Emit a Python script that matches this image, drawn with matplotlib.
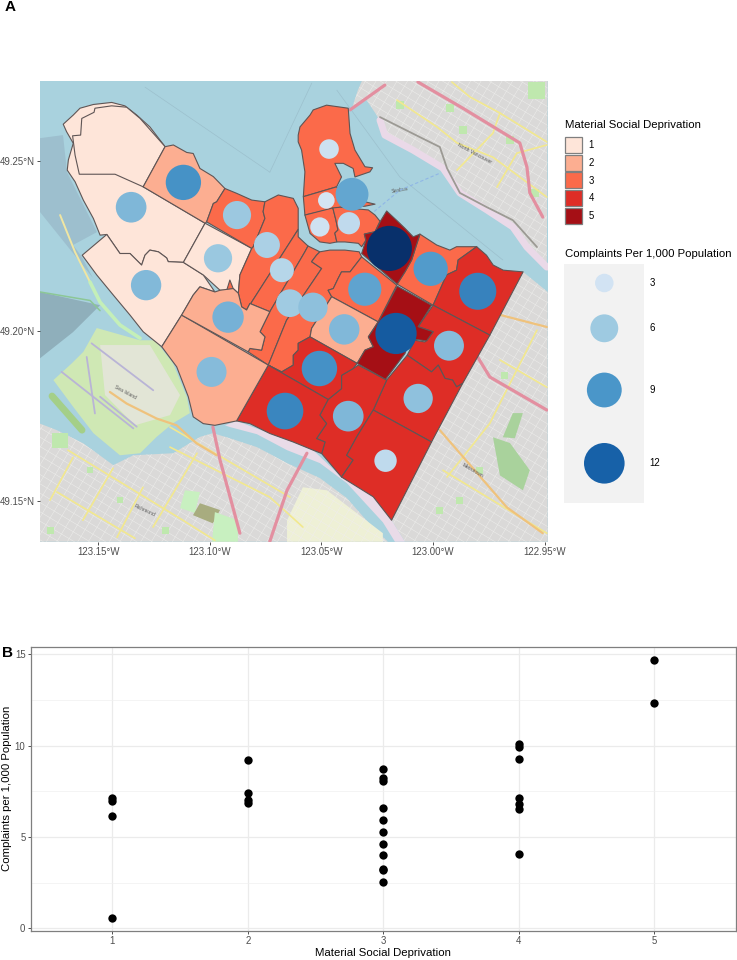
import numpy as np
import matplotlib
matplotlib.use("Agg")
import matplotlib.pyplot as plt
from matplotlib.patches import Polygon, Rectangle, PathPatch
from matplotlib.path import Path
from matplotlib.collections import LineCollection
from matplotlib.colors import LinearSegmentedColormap

plt.rcParams['font.family'] = ['Liberation Sans', 'DejaVu Sans']

# ---------- Panel B data ----------
deprivation_1 = [0.57, 6.13, 6.99, 7.12]
deprivation_2 = [9.23, 7.41, 7.03, 6.84]
deprivation_3 = [8.72, 8.23, 8.08, 6.57, 5.93, 5.27, 4.60, 4.03, 3.27, 3.20, 2.54]
deprivation_4 = [10.09, 9.90, 9.29, 7.12, 6.81, 6.55, 4.09]
deprivation_5 = [14.69, 12.35]

# ---------- Panel A: legend ----------
level_labels = ['1', '2', '3', '4', '5']
level_colors = ['#fee5d9', '#fcae91', '#fb6a4a', '#de2d26', '#a50f15']
size_breaks = [3, 6, 9, 12]
blue_stops = [(2.5, '#d4e5f4'), (3, '#d2e3f3'), (6, '#9ecae1'), (9, '#4a96c9'),
              (12, '#1761a8'), (14.7, '#08306b')]

# ---------- Panel A: complaint circles (lon, lat, complaints per 1,000) ----------
circle_lon = [-123.1118, -123.1352, -123.1285, -123.0963, -123.0918, -123.0992,
              -123.0878, -123.0744, -123.0677, -123.0641, -123.0538, -123.0466,
              -123.0478, -123.0363, -123.0507, -123.0377, -123.0196, -123.0011,
              -122.9800, -123.0306, -123.0398, -123.0166, -122.9929, -123.0509,
              -123.0663, -123.0380, -123.0067, -123.0213]
circle_lat = [49.2437, 49.2364, 49.2135, 49.2214, 49.2041, 49.1880,
              49.2341, 49.2253, 49.2179, 49.2082, 49.2070, 49.2535,
              49.2384, 49.2402, 49.2306, 49.2317, 49.2243, 49.2183,
              49.2117, 49.2123, 49.2005, 49.1993, 49.1957, 49.1890,
              49.1765, 49.1750, 49.1802, 49.1619]
circle_val = [9.23, 7.12, 6.99, 6.13, 7.41, 6.84,
              6.10, 5.27, 4.60, 5.93, 6.57, 3.27,
              2.54, 8.08, 3.20, 4.03, 14.69, 8.72,
              10.09, 8.23, 7.03, 12.35, 6.81, 9.29,
              9.90, 7.12, 6.55, 4.09]

# ---------- Panel A: neighbourhood boundaries (lon, lat) ----------
area_west = [(-123.1656,49.2608),(-123.1611,49.2635),(-123.1581,49.2655),(-123.1521,49.2666),(-123.1439,49.2672),
    (-123.1380,49.2662),(-123.1327,49.2635),(-123.1268,49.2600),(-123.1200,49.2542),(-123.1298,49.2424),
    (-123.1021,49.2317),(-123.1118,49.2202),(-123.1186,49.2204),(-123.1193,49.2215),(-123.1230,49.2233),
    (-123.1268,49.2238),(-123.1290,49.2223),(-123.1305,49.2194),(-123.1357,49.2228),(-123.1402,49.2228),
    (-123.1461,49.2284),(-123.1491,49.2282),(-123.1521,49.2331),(-123.1566,49.2385),(-123.1603,49.2439),
    (-123.1638,49.2473),(-123.1633,49.2503),(-123.1611,49.2552),(-123.1641,49.2586)]
area_ubc = [(-123.1573,49.2625),(-123.1518,49.2643),(-123.1514,49.2655),(-123.1439,49.2662),(-123.1372,49.2658),
    (-123.1312,49.2625),(-123.1200,49.2542),(-123.1298,49.2424),(-123.1424,49.2461),(-123.1584,49.2461),
    (-123.1603,49.2517),(-123.1614,49.2574),(-123.1578,49.2576)]
area_c = [(-123.1571,49.2223),(-123.1461,49.2284),(-123.1402,49.2228),(-123.1357,49.2228),(-123.1305,49.2194),
    (-123.1290,49.2223),(-123.1268,49.2238),(-123.1230,49.2233),(-123.1193,49.2215),(-123.1186,49.2204),
    (-123.1118,49.2202),(-123.1029,49.2165),(-123.0977,49.2115),(-123.1044,49.2130),(-123.1074,49.2106),
    (-123.1126,49.2047),(-123.1215,49.1954),(-123.1298,49.1998),(-123.1357,49.2047),(-123.1432,49.2106),
    (-123.1506,49.2165)]
area_d = [(-123.1021,49.2317),(-123.0812,49.2243),(-123.0865,49.2165),(-123.0872,49.2111),(-123.0895,49.2125),
    (-123.0924,49.2120),(-123.0954,49.2120),(-123.1029,49.2165),(-123.1118,49.2202)]
area_e = [(-123.1200,49.2542),(-123.1163,49.2547),(-123.1103,49.2525),(-123.1074,49.2522),(-123.1044,49.2478),
    (-123.0984,49.2454),(-123.0932,49.2419),(-123.0969,49.2380),(-123.0984,49.2375),(-123.1014,49.2321),
    (-123.1021,49.2317),(-123.1298,49.2424)]
area_f = [(-123.0932,49.2419),(-123.0880,49.2405),(-123.0812,49.2385),(-123.0753,49.2380),(-123.0761,49.2351),
    (-123.0753,49.2331),(-123.0805,49.2248),(-123.0812,49.2243),(-123.1014,49.2321),(-123.0984,49.2375),
    (-123.0969,49.2380)]
area_g = [(-123.0753,49.2380),(-123.0693,49.2400),(-123.0626,49.2390),(-123.0604,49.2361),(-123.0604,49.2299),
    (-123.0835,49.2062),(-123.0857,49.2071),(-123.0872,49.2111),(-123.0865,49.2165),(-123.0812,49.2243),
    (-123.0805,49.2248),(-123.0753,49.2331),(-123.0761,49.2351)]
area_sliver = [(-123.0924,49.2120),(-123.0910,49.2150),(-123.0895,49.2125)]
area_h = [(-123.0604,49.2299),(-123.0604,49.2277),(-123.0560,49.2250),(-123.0574,49.2233),(-123.0731,49.2057),
    (-123.0820,49.2081),(-123.0835,49.2062)]
area_i = [(-123.0574,49.2233),(-123.0560,49.2250),(-123.0507,49.2233),(-123.0522,49.2223),(-123.0544,49.2204),
    (-123.0499,49.2184),(-123.0656,49.2032),(-123.0671,49.2008),(-123.0738,49.1900),(-123.0828,49.1939),
    (-123.0820,49.1949),(-123.0768,49.1944),(-123.0753,49.1983),(-123.0775,49.1998),(-123.0731,49.2057)]
area_j = [(-123.0522,49.2223),(-123.0507,49.2233),(-123.0462,49.2238),(-123.0395,49.2238),
    (-123.0331,49.2233),(-123.0320,49.2218),(-123.0372,49.2174),(-123.0410,49.2174),(-123.0425,49.2155),
    (-123.0447,49.2125),(-123.0470,49.2120),(-123.0454,49.2101),(-123.0544,49.2008),(-123.0551,49.1983),
    (-123.0604,49.1964),(-123.0604,49.1944),(-123.0626,49.1929),(-123.0626,49.1900),(-123.0678,49.1880),
    (-123.0738,49.1900),(-123.0671,49.2008),(-123.0656,49.2032),(-123.0499,49.2184),(-123.0544,49.2204)]
area_k = [(-123.0320,49.2218),(-123.0163,49.2135),(-123.0246,49.2027),(-123.0454,49.2101),(-123.0470,49.2120),
    (-123.0447,49.2125),(-123.0425,49.2155),(-123.0410,49.2174),(-123.0372,49.2174)]
area_l = [(-123.0454,49.2101),(-123.0246,49.2027),(-123.0290,49.1983),(-123.0268,49.1954),(-123.0305,49.1944),
    (-123.0340,49.1905),(-123.0551,49.1983),(-123.0544,49.2008)]
area_m = [(-123.0320,49.2228),(-123.0301,49.2267),(-123.0308,49.2285),(-123.0260,49.2292),(-123.0235,49.2324),
    (-123.0208,49.2353),(-123.0156,49.2321),(-123.0126,49.2302),(-123.0089,49.2277),(-123.0059,49.2285),
    (-123.0096,49.2209),(-123.0126,49.2174),(-123.0161,49.2138)]
area_n = [(-123.0059,49.2285),(-122.9984,49.2253),(-122.9925,49.2238),(-122.9895,49.2248),(-122.9805,49.2248),
    (-122.9888,49.2209),(-122.9895,49.2179),(-122.9940,49.2165),(-123.0000,49.2076),(-123.0161,49.2138),
    (-123.0126,49.2174),(-123.0096,49.2209)]
area_o = [(-122.9805,49.2248),(-122.9761,49.2223),(-122.9731,49.2194),(-122.9686,49.2179),(-122.9597,49.2174),
    (-122.9746,49.1988),(-123.0000,49.2076),(-122.9940,49.2165),(-122.9895,49.2179),(-122.9888,49.2209)]
area_p = [(-123.0161,49.2132),(-123.0007,49.2076),(-123.0067,49.2013),(-123.0000,49.1998),(-123.0029,49.1971),
    (-123.0104,49.1978),(-123.0126,49.1934),(-123.0213,49.1858),(-123.0340,49.1905),(-123.0305,49.1944),
    (-123.0268,49.1954),(-123.0290,49.1983),(-123.0246,49.2027)]
area_q = [(-123.0000,49.2076),(-122.9746,49.1988),(-122.9868,49.1846),(-122.9895,49.1836),(-122.9913,49.1856),
    (-122.9947,49.1861),(-122.9977,49.1900),(-123.0007,49.1880),(-123.0116,49.1929),(-123.0082,49.1973),
    (-123.0037,49.1968),(-123.0000,49.1998),(-123.0067,49.2013)]
area_r = [(-123.0116,49.1929),(-123.0007,49.1880),(-122.9977,49.1900),(-122.9947,49.1861),(-122.9913,49.1856),
    (-122.9895,49.1836),(-122.9868,49.1846),(-123.0007,49.1674),(-123.0268,49.1768),(-123.0208,49.1856)]
area_s = [(-123.0335,49.1900),(-123.0208,49.1856),(-123.0268,49.1768),(-123.0342,49.1689),(-123.0387,49.1635),
    (-123.0358,49.1621),(-123.0410,49.1571),(-123.0499,49.1640),(-123.0484,49.1674),(-123.0522,49.1684),
    (-123.0477,49.1728),(-123.0507,49.1753),(-123.0470,49.1799),(-123.0410,49.1831),(-123.0410,49.1870),
    (-123.0358,49.1890)]
area_t = [(-123.0268,49.1768),(-123.0007,49.1674),(-123.0186,49.1444),(-123.0268,49.1513),(-123.0410,49.1571),
    (-123.0358,49.1621),(-123.0387,49.1635),(-123.0342,49.1689)]
area_u = [(-123.0551,49.1983),(-123.0340,49.1905),(-123.0358,49.1890),(-123.0410,49.1870),(-123.0410,49.1831),
    (-123.0470,49.1799),(-123.0738,49.1900),(-123.0678,49.1880),(-123.0626,49.1900),(-123.0626,49.1929),
    (-123.0604,49.1944),(-123.0604,49.1964)]
area_v = [(-123.0738,49.1900),(-123.0470,49.1799),(-123.0507,49.1753),(-123.0477,49.1728),(-123.0522,49.1684),
    (-123.0484,49.1674),(-123.0499,49.1640),(-123.0537,49.1650),(-123.0626,49.1674),(-123.0731,49.1699),
    (-123.0820,49.1728),(-123.0880,49.1736)]
area_w = [(-123.1215,49.1954),(-123.1148,49.1895),(-123.1096,49.1807),(-123.1074,49.1748),(-123.1029,49.1728),
    (-123.0977,49.1723),(-123.0880,49.1736),(-123.0738,49.1900),(-123.1126,49.2047)]
area_x = [(-123.1074,49.2106),(-123.1044,49.2130),(-123.0977,49.2115),(-123.0954,49.2120),(-123.0895,49.2125),
    (-123.0872,49.2111),(-123.0857,49.2071),(-123.0835,49.2062),(-123.0820,49.2081),(-123.0731,49.2057),
    (-123.0775,49.1998),(-123.0753,49.1983),(-123.0768,49.1944),(-123.0820,49.1949),(-123.0828,49.1939),
    (-123.1126,49.2047)]
area_y = [(-123.0604,49.2576),(-123.0596,49.2600),(-123.0551,49.2635),(-123.0537,49.2650),(-123.0477,49.2664),
    (-123.0380,49.2655),(-123.0372,49.2581),(-123.0350,49.2532),(-123.0305,49.2483),(-123.0271,49.2480),
    (-123.0283,49.2468),(-123.0350,49.2453),(-123.0358,49.2478),(-123.0402,49.2493),(-123.0440,49.2493),
    (-123.0410,49.2453),(-123.0432,49.2424),(-123.0581,49.2395),(-123.0574,49.2468),(-123.0589,49.2532),
    (-123.0604,49.2556)]
area_z = [(-123.0581,49.2395),(-123.0432,49.2424),(-123.0372,49.2370),(-123.0305,49.2380),(-123.0260,49.2373),
    (-123.0305,49.2367),(-123.0417,49.2364),(-123.0574,49.2341)]
area_aa = [(-123.0574,49.2341),(-123.0449,49.2362),(-123.0435,49.2326),(-123.0426,49.2297),(-123.0440,49.2288),
    (-123.0431,49.2262),(-123.0462,49.2258),(-123.0507,49.2262),(-123.0551,49.2287)]
area_ab = [(-123.0449,49.2362),(-123.0417,49.2364),(-123.0290,49.2356),(-123.0260,49.2341),(-123.0238,49.2323),
    (-123.0260,49.2292),(-123.0308,49.2285),(-123.0301,49.2267),(-123.0320,49.2248),(-123.0335,49.2258),
    (-123.0395,49.2262),(-123.0431,49.2262),(-123.0440,49.2288),(-123.0426,49.2297),(-123.0435,49.2326)]

areas = [area_west, area_ubc, area_c, area_d, area_e, area_f, area_sliver, area_g, area_h, area_i,
         area_j, area_k, area_l, area_n, area_o, area_q, area_r, area_s, area_t, area_u, area_v,
         area_w, area_x, area_y, area_z, area_aa, area_ab, area_m, area_p]
area_levels = [1, 1, 1, 1, 2, 3, 3, 3, 3, 3,
               3, 3, 2, 3, 4, 4, 4, 4, 4, 4, 4,
               2, 2, 3, 3, 3, 3, 5, 5]

# ---------- Panel A: basemap ----------
land_north = [(-123.0363,49.2655),(-123.0337,49.2708),(-123.0319,49.2735),(-122.9487,49.2735),(-122.9491,49.2188),
    (-122.9580,49.2247),(-122.9643,49.2306),(-122.9759,49.2356),(-122.9880,49.2406),(-122.9956,49.2479),
    (-123.0090,49.2532),(-123.0216,49.2576),(-123.0238,49.2620),(-123.0298,49.2679)]
land_burnaby = [(-122.9597,49.2174),(-122.9487,49.2115),(-122.9487,49.1381),(-123.0126,49.1381),(-123.0186,49.1444),
    (-123.0007,49.1674),(-122.9868,49.1846),(-122.9746,49.1988)]
land_richmond = [(-123.1760,49.1728),(-123.1685,49.1709),(-123.1566,49.1670),(-123.1432,49.1606),(-123.1342,49.1635),
    (-123.1163,49.1641),(-123.1089,49.1671),(-123.1044,49.1689),(-123.0986,49.1700),(-123.0910,49.1685),
    (-123.0789,49.1659),(-123.0654,49.1612),(-123.0507,49.1568),(-123.0386,49.1509),(-123.0260,49.1415),
    (-123.0202,49.1381),(-123.1760,49.1381)]
land_south_bank = [(-123.0932,49.1723),(-123.0880,49.1736),(-123.0731,49.1699),(-123.0537,49.1650),(-123.0410,49.1571),
    (-123.0268,49.1513),(-123.0186,49.1444),(-123.0126,49.1381),(-123.0171,49.1381),(-123.0225,49.1438),
    (-123.0386,49.1553),(-123.0507,49.1612),(-123.0654,49.1650),(-123.0789,49.1697),(-123.0910,49.1718)]
sea_island = [(-123.1700,49.1856),(-123.1618,49.1905),(-123.1566,49.1939),(-123.1506,49.2009),(-123.1312,49.1973),
    (-123.1245,49.1973),(-123.1165,49.1906),(-123.1103,49.1807),(-123.1089,49.1759),(-123.1165,49.1729),
    (-123.1238,49.1689),(-123.1312,49.1641),(-123.1402,49.1635),(-123.1521,49.1700),(-123.1611,49.1777)]
airport_apron = [(-123.1491,49.1959),(-123.1268,49.1959),(-123.1133,49.1812),(-123.1178,49.1753),(-123.1335,49.1723),(-123.1469,49.1812)]
flats_north = [(-123.1760,49.2567),(-123.1657,49.2576),(-123.1639,49.2467),(-123.1505,49.2291),(-123.1612,49.2253),
    (-123.1572,49.2217),(-123.1523,49.2156),(-123.1760,49.2350)]
flats_south = [(-123.1760,49.2115),(-123.1491,49.2076),(-123.1612,49.1997),(-123.1760,49.1920)]
farm_land = [(-123.0654,49.1444),(-123.0583,49.1541),(-123.0475,49.1532),(-123.0225,49.1406),(-123.0225,49.1381),(-123.0654,49.1381)]
park_burnaby_a = [(-122.9732,49.1688),(-122.9656,49.1671),(-122.9567,49.1591),(-122.9598,49.1532),(-122.9701,49.1576)]
park_burnaby_b = [(-122.9643,49.1759),(-122.9598,49.1759),(-122.9634,49.1685),(-122.9688,49.1688)]
park_minoru = [(-123.1111,49.1532),(-123.1044,49.1527),(-123.1066,49.1465),(-123.1133,49.1480)]
park_olive = [(-123.1044,49.1494),(-123.0954,49.1474),(-123.0986,49.1435),(-123.1075,49.1459)]
park_garden = [(-123.0977,49.1468),(-123.0874,49.1444),(-123.0874,49.1381),(-123.0990,49.1381)]
park_colors = ['#a9d29c', '#a9d29c', '#c8f0c0', '#a8ac7f', '#c8f0c0']
spot_lon = [-122.9535, -122.9925, -122.9867, -122.9544, -123.0149, -122.9656, -122.9679, -122.9791,
            -122.9880, -122.9970, -123.1536, -123.1402, -123.1670, -123.1200, -123.1715]
spot_lat = [49.2708, 49.2655, 49.2591, 49.2406, 49.2664, 49.2561, 49.1870, 49.1591,
            49.1503, 49.1474, 49.1591, 49.1503, 49.1679, 49.1415, 49.1415]
spot_area = [150, 30, 30, 40, 30, 30, 25, 25, 25, 25, 20, 20, 120, 25, 25]

roads_yellow = [
    [(-123.1635,49.1650),(-123.1120,49.1444),(-123.0977,49.1385)],
    [(-123.1684,49.1527),(-123.1335,49.1391)],
    [(-123.1178,49.1718),(-123.0641,49.1512)],
    [(-123.1178,49.1659),(-123.0731,49.1512),(-123.0583,49.1424)],
    [(-123.1612,49.1629),(-123.1715,49.1503)],
    [(-123.1433,49.1597),(-123.1568,49.1444)],
    [(-123.1299,49.1541),(-123.1415,49.1394)],
    [(-123.1057,49.1641),(-123.1254,49.1424)],
    [(-122.9956,49.1591),(-122.9491,49.1406)],
    [(-122.9535,49.2003),(-122.9746,49.1729),(-122.9938,49.1571)],
    [(-122.9701,49.1915),(-122.9491,49.1835)],
    [(-123.0162,49.2679),(-122.9983,49.2600),(-122.9893,49.2553),(-122.9732,49.2511),(-122.9491,49.2394)],
    [(-122.9916,49.2732),(-122.9835,49.2688),(-122.9701,49.2641),(-122.9491,49.2556)],
    [(-122.9701,49.2641),(-122.9732,49.2582),(-122.9893,49.2473)],
    [(-122.9714,49.2423),(-122.9625,49.2523),(-122.9491,49.2547)],
]
roads_orange = [
    [(-123.1447,49.1821),(-123.1372,49.1787),(-123.1238,49.1743),(-123.1148,49.1723),(-123.1059,49.1670),(-123.0969,49.1635)],
    [(-122.9970,49.1709),(-122.9670,49.1482),(-122.9509,49.1406)],
    [(-122.9732,49.2053),(-122.9491,49.2012)],
]
roads_pink = [
    [(-123.0068,49.2732),(-122.9867,49.2655),(-122.9612,49.2553),(-122.9580,49.2482),(-122.9567,49.2406),(-122.9509,49.2335)],
    [(-122.9800,49.1923),(-122.9746,49.1865),(-122.9491,49.1768)],
    [(-123.0986,49.1718),(-123.0954,49.1621),(-123.0865,49.1406)],
    [(-123.0565,49.1641),(-123.0654,49.1532),(-123.0731,49.1382)],
    [(-123.0372,49.2650),(-123.0216,49.2723)],
]
railway_north = [(-123.0238,49.2629),(-123.0059,49.2570),(-122.9970,49.2541),(-122.9938,49.2479),(-122.9880,49.2406),
    (-122.9759,49.2364),(-122.9643,49.2326),(-122.9535,49.2247)]
shore_north = [(-123.0238,49.2620),(-123.0216,49.2576),(-123.0090,49.2532),(-122.9956,49.2479),(-122.9880,49.2406),
    (-122.9759,49.2356),(-122.9643,49.2306),(-122.9580,49.2247),(-122.9491,49.2188)]
runways = [
    [(-123.1529,49.1964),(-123.1253,49.1826)],
    [(-123.1551,49.1924),(-123.1514,49.1758)],
    [(-123.1663,49.1880),(-123.1342,49.1714)],
    [(-123.1491,49.1807),(-123.1327,49.1719)],
]
iona_shore = [(-123.1536,49.2144),(-123.1491,49.2085),(-123.1402,49.2018),(-123.1312,49.1979)]
iona_jetty = [(-123.1760,49.2115),(-123.1536,49.2090),(-123.1491,49.2060)]
beach_line = [(-123.1670,49.2341),(-123.1603,49.2232),(-123.1536,49.2144)]
swishwash = [(-123.1706,49.1809),(-123.1572,49.1709)]
water_limits = [
    [(-123.1290,49.2717),(-123.0731,49.2467)],
    [(-123.0731,49.2467),(-123.0543,49.2729)],
    [(-123.0431,49.2708),(-123.0149,49.2453),(-122.9688,49.2209)],
]
seabus = [(-123.0283,49.2341),(-123.0149,49.2414),(-122.9970,49.2464)]
map_labels = [('Sea Island', -123.1380, 49.1820, -28), ('North Vancouver', -122.9813, 49.2523, -28),
              ('Richmond', -123.1290, 49.1474, -25), ('Metrotown', -122.9822, 49.1591, -30),
              ('Seabus', -123.0149, 49.2414, 10)]

# ---------- Axis labels ----------
lon_ticks = [-123.15, -123.10, -123.05, -123.00, -122.95]
lon_labels = ['123.15°W', '123.10°W', '123.05°W', '123.00°W', '122.95°W']
lat_ticks = [49.15, 49.20, 49.25]
lat_labels = ['49.15°N', '49.20°N', '49.25°N']

W, H = 737, 960
fig = plt.figure(figsize=(W / 100, H / 100), dpi=100, facecolor='white')


def px_axes(left, top, right, bottom, **kw):
    return fig.add_axes([left / W, 1 - bottom / H, (right - left) / W, (bottom - top) / H], **kw)


def circle_size(v):
    # ggplot-style area scale, fitted on the key circles
    return 75.2 * np.asarray(v, dtype=float) - 47.7


lo, hi = blue_stops[0][0], blue_stops[-1][0]
blue_cmap = LinearSegmentedColormap.from_list('complaints', [((v - lo) / (hi - lo), c) for v, c in blue_stops])


def blue(v):
    return blue_cmap((np.asarray(v, dtype=float) - lo) / (hi - lo))


# ================= Panel A =================
ax = px_axes(40, 81, 547.7, 541.7, facecolor='#a9d2de')
ax.set_xlim(-123.1760, -122.9487)
ax.set_ylim(49.1381, 49.2735)


def poly(points, color, z=1, **kw):
    p = Polygon(points, closed=True, facecolor=color, edgecolor='none', zorder=z, **kw)
    ax.add_patch(p)
    return p


def line(points, z=2, **kw):
    xs, ys = zip(*points)
    return ax.plot(xs, ys, zorder=z, solid_capstyle='round', **kw)[0]


for seg in water_limits:
    line(seg, z=1, color='#9cc0cd', lw=0.5)
poly(flats_north, '#9dbfce')
poly(flats_south, '#8fafbb')
line(iona_jetty, color='#8cc796', lw=1.1)
line(beach_line, color='#f0e6a2', lw=1.4)
line(iona_shore, color='#c4efb8', lw=2.6)
line(swishwash, color='#a4cf88', lw=5)
line(seabus, color='#8fb6e6', lw=0.8, ls=(0, (3, 2)))

land_color = '#dad9d8'
land_polys = [land_north, land_burnaby, land_richmond]
for pts in land_polys:
    poly(pts, land_color, z=1.2)
poly(land_south_bank, '#e9dbe8', z=1.2)
poly(farm_land, '#eef0d6', z=1.25)
for pts, c in zip([park_burnaby_a, park_burnaby_b, park_minoru, park_olive, park_garden], park_colors):
    poly(pts, c, z=1.34)
line(shore_north, z=1.35, color='#ead9e8', lw=5)

# street texture, clipped to the land areas
verts, codes = [], []
for pts in land_polys:
    verts += list(pts) + [pts[0]]
    codes += [Path.MOVETO] + [Path.LINETO] * (len(pts) - 1) + [Path.CLOSEPOLY]
land_clip = PathPatch(Path(verts, codes), transform=ax.transData, facecolor='none', edgecolor='none')
ax.add_patch(land_clip)
u = np.array([0.000384, -0.000151])
v_dir = np.array([0.000231, 0.000252])
origin = np.array([-123.06, 49.20])
segs = []
for k in range(-60, 61):
    segs.append([origin + k * 8 * v_dir - 600 * u, origin + k * 8 * v_dir + 600 * u])
    segs.append([origin + k * 9 * u - 600 * v_dir, origin + k * 9 * u + 600 * v_dir])
streets = LineCollection(segs, colors='#eeeeec', linewidths=0.35, zorder=1.26)
ax.add_collection(streets)
streets.set_clip_path(land_clip)
ax.scatter(spot_lon, spot_lat, s=spot_area, marker='s', color='#bfe8ae', linewidths=0, zorder=1.3)

poly(sea_island, '#cfe8b4', z=1.4)
poly(airport_apron, '#e2e5d6', z=1.45)
for seg in runways:
    line(seg, z=1.5, color='#b9b4d6', lw=1.3)
for seg in roads_yellow:
    line(seg, z=1.6, color='#f2e88e', lw=1.2)
for seg in roads_orange:
    line(seg, z=1.65, color='#efc27c', lw=1.6)
line(railway_north, z=1.7, color='#9c9a94', lw=1.3)
for seg in roads_pink:
    line(seg, z=1.7, color='#e38fa0', lw=2.3)
for txt, lon, lat, rot in map_labels:
    ax.text(lon, lat, txt, fontsize=3.6, color='#5a5a5a', rotation=rot, ha='center', va='center', zorder=1.8)

# choropleth
for pts, lev in zip(areas, area_levels):
    ax.add_patch(Polygon(pts, closed=True, facecolor=level_colors[lev - 1], edgecolor='#5f5555',
                         linewidth=0.8, joinstyle='round', zorder=3))
# complaint circles
ax.scatter(circle_lon, circle_lat, s=circle_size(circle_val), c=blue(circle_val), linewidths=0, zorder=4)

ax.set_xticks(lon_ticks, lon_labels)
ax.set_yticks(lat_ticks, lat_labels)
ax.tick_params(length=2.4, width=0.6, color='#333333', labelcolor='#4d4d4d', labelsize=6.9, pad=1.6)
for s in ax.spines.values():
    s.set_visible(False)

# ================= Panel B =================
bx = px_axes(31, 647.3, 735.7, 930.7, facecolor='white')
bx.set_xlim(0.4, 5.6)
bx.set_ylim(-0.13, 15.38)
groups = [deprivation_1, deprivation_2, deprivation_3, deprivation_4, deprivation_5]
for g, vals in enumerate(groups, start=1):
    bx.scatter([g] * len(vals), vals, s=36, color='black', linewidths=0, zorder=3)
bx.set_xticks([1, 2, 3, 4, 5], level_labels)
bx.set_yticks([0, 5, 10, 15], ['0', '5', '10', '15'])
bx.set_yticks([2.5, 7.5, 12.5], minor=True)
bx.grid(True, which='major', color='#ebebeb', lw=0.9, zorder=0)
bx.grid(True, which='minor', axis='y', color='#f0f0f0', lw=0.5, zorder=0)
bx.set_axisbelow(True)
bx.tick_params(which='major', length=2.4, width=0.6, color='#333333', labelcolor='#4d4d4d', labelsize=6.9, pad=1.6)
bx.tick_params(which='minor', length=0)
for s in bx.spines.values():
    s.set_edgecolor('#7f7f7f')
    s.set_linewidth(0.9)

# ================= Overlay: legends and titles =================
ov = fig.add_axes([0, 0, 1, 1], facecolor='none')
ov.set_xlim(0, W)
ov.set_ylim(H, 0)
ov.axis('off')

title_kw = dict(fontsize=8.2, color='black', va='center')
ov.text(565, 125, 'Material Social Deprivation', **title_kw)
key_tops = [136.7, 154.5, 172.3, 190.0, 208.0]
for top, col, lab in zip(key_tops, level_colors, level_labels):
    ov.add_patch(Rectangle((565, top), 16.6, 16.2, facecolor=col, edgecolor='#7f7f7f', lw=0.9))
    ov.text(588.7, top + 8.4, lab, fontsize=6.9, color='black', va='center')

ov.text(565, 254, 'Complaints Per 1,000 Population', **title_kw)
ov.add_patch(Rectangle((564.3, 264), 79.7, 238.7, facecolor='#f2f2f2', edgecolor='none'))
key_y = [283, 328.3, 390, 463.3]
ov.scatter([604.3] * 4, key_y, s=circle_size(size_breaks), c=blue(size_breaks), linewidths=0)
for y, b in zip(key_y, size_breaks):
    ov.text(649.3, y, str(b), fontsize=6.9, color='black', va='center')

ov.text(5, 7, 'A', fontsize=11, fontweight='bold', va='center')
ov.text(2, 653, 'B', fontsize=11, fontweight='bold', va='center')
ov.text(383, 953, 'Material Social Deprivation', fontsize=8.2, ha='center', va='center')
ov.text(7, 788, 'Complaints per 1,000 Population', fontsize=8.2, rotation=90, ha='center', va='center')

fig.savefig('out.png', dpi=100)
